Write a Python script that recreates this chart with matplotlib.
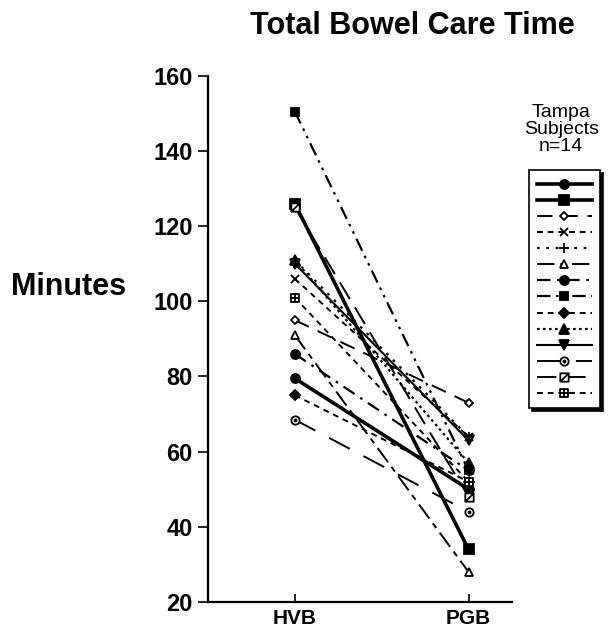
import matplotlib
matplotlib.use("Agg")
import matplotlib.pyplot as plt
import numpy as np
from matplotlib.path import Path

plt.rcParams['font.family'] = ['Liberation Sans', 'DejaVu Sans']

# ── data ──────────────────────────────────────
groups = ["HVB", "PGB"]
hvb = [79.5, 126, 95, 106, 111, 91, 86, 150.5, 75, 111, 110, 68.5, 125, 101]
pgb = [50, 34, 73, 64, 64, 28, 55, 55, 52, 57, 63, 44, 48, 52]
y_ticks = [20, 40, 60, 80, 100, 120, 140, 160]


# ── custom markers ────────────────────────────
def _square_with(lines):
    verts = [(-1, -1), (1, -1), (1, 1), (-1, 1), (-1, -1)]
    codes = [Path.MOVETO] + [Path.LINETO] * 3 + [Path.CLOSEPOLY]
    for a, b in lines:
        verts += [a, b]
        codes += [Path.MOVETO, Path.LINETO]
    return Path(verts, codes)


sq_slash = _square_with([((-1, -1), (1, 1))])
sq_plus = _square_with([((0, -1), (0, 1)), ((-1, 0), (1, 0))])
_c = Path.circle((0, 0), 1.0)
_d = Path.circle((0, 0), 0.25)
circ_dot = Path(np.concatenate([_c.vertices, _d.vertices]),
                np.concatenate([_c.codes, _d.codes]))

# (linestyle, linewidth, marker, facecolor, markersize)
styles = [
    ("-", 2.6, "o", "black", 6.5),
    ("-", 2.6, "s", "black", 6.5),
    ((0, (8, 5)), 1.4, "D", "white", 4.5),
    ((0, (3, 2.5)), 1.4, "x", "black", 6),
    ((0, (1.2, 3)), 1.6, "+", "black", 7),
    ((0, (9, 3, 3, 3)), 1.4, "^", "white", 6),
    ((0, (6, 3, 1.2, 3)), 1.6, "o", "black", 6.5),
    ((0, (6, 2.5, 1.2, 2.5, 1.2, 2.5)), 1.6, "s", "black", 6),
    ((0, (3, 2.5)), 1.4, "D", "black", 5),
    ((0, (1.2, 1.5)), 1.6, "^", "black", 6.5),
    ("-", 1.5, "v", "black", 6.5),
    ((0, (12, 8)), 1.4, circ_dot, "white", 6),
    ((0, (10, 5)), 1.4, sq_slash, "white", 6),
    ((0, (3, 2.5)), 1.4, sq_plus, "white", 6),
]

fig = plt.figure(figsize=(6.08, 6.37), dpi=100)
ax = fig.add_axes([0.342, 0.055, 0.5, 0.826])

handles = []
for a, b, (ls, lw, mk, fc, ms) in zip(hvb, pgb, styles):
    ln, = ax.plot([0, 1], [a, b], linestyle=ls, linewidth=lw, color="black",
                  marker=mk, markerfacecolor=fc, markeredgecolor="black",
                  markeredgewidth=1.3, markersize=ms, dash_capstyle="butt")
    handles.append(ln)

ax.set_xlim(-0.5, 1.25)
ax.set_ylim(20, 160)
ax.set_xticks([0, 1])
ax.set_xticklabels(groups, fontsize=15, fontweight="bold")
ax.set_yticks(y_ticks)
ax.set_yticklabels([str(t) for t in y_ticks], fontsize=17, fontweight="bold")
ax.tick_params(axis="y", direction="out", length=7, width=1.2, pad=4)
ax.tick_params(axis="x", direction="in", length=6, width=1.2, pad=5)
for side in ("top", "right"):
    ax.spines[side].set_visible(False)
for side in ("left", "bottom"):
    ax.spines[side].set_linewidth(1.6)

fig.text(0.679, 0.959, "Total Bowel Care Time", ha="center", va="center",
         fontsize=22, fontweight="bold")
fig.text(0.112, 0.55, "Minutes", ha="center", va="center",
         fontsize=22, fontweight="bold")
fig.text(0.923, 0.797, "Tampa\nSubjects\nn=14", ha="center", va="center",
         fontsize=14, linespacing=1.0)

leg = fig.legend(handles, [""] * len(handles), loc="upper left",
                 bbox_to_anchor=(0.87, 0.733), bbox_transform=fig.transFigure,
                 fontsize=10, handlelength=4.0, handletextpad=0,
                 labelspacing=0.15, borderpad=0.55, borderaxespad=0,
                 fancybox=False, frameon=True,
                 shadow={"color": "black", "alpha": 1})
leg.get_frame().set_edgecolor("black")
leg.get_frame().set_linewidth(1.2)

fig.savefig("out.png", dpi=100)
